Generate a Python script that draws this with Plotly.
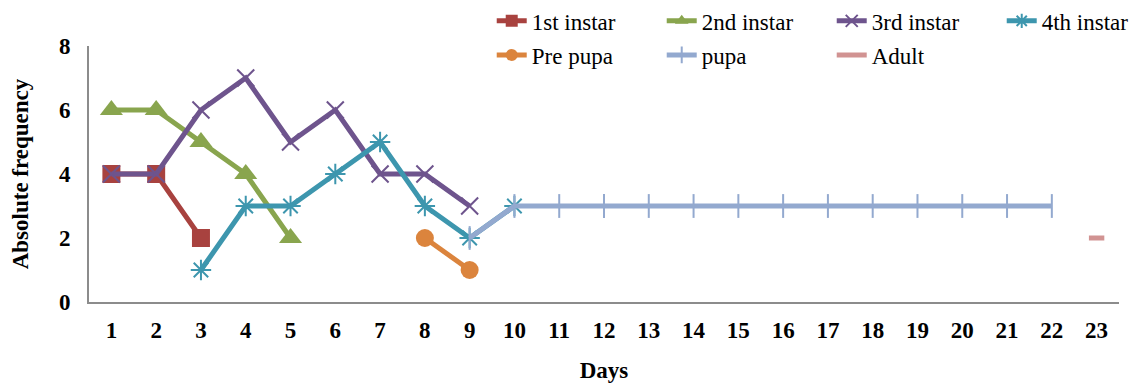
import plotly.graph_objects as go

days = list(range(1, 24))
d1 = [1, 2, 3]; v1 = [4, 4, 2]
d2 = [1, 2, 3, 4, 5]; v2 = [6, 6, 5, 4, 2]
d3 = [1, 2, 3, 4, 5, 6, 7, 8, 9]; v3 = [4, 4, 6, 7, 5, 6, 4, 4, 3]
d4 = [3, 4, 5, 6, 7, 8, 9, 10]; v4 = [1, 3, 3, 4, 5, 3, 2, 3]
dpp = [8, 9]; vpp = [2, 1]
dp = list(range(9, 23)); vp = [2] + [3] * 13
da = [23]; va = [2]

FONT = "Liberation Serif, Times New Roman, serif"
fig = go.Figure()

def add(x, y, name, color, symbol, size, legend, mlw=0, mode="lines+markers"):
    fig.add_trace(go.Scatter(
        x=x, y=y, name=name, mode=mode, legend=legend,
        line=dict(color=color, width=5),
        marker=dict(symbol=symbol, size=size, color=color,
                    line=dict(color=color, width=mlw)),
    ))

add(d1, v1, "1st instar", "#A8423F", "square", 18, "legend")
add(d2, v2, "2nd instar", "#89A54E", "triangle-up", 20, "legend")
add(d3, v3, "3rd instar", "#6E548D", "x-thin-open", 17, "legend", mlw=2)
add(d4, v4, "4th instar", "#3D96AE", "asterisk-open", 17, "legend", mlw=2)
add(dpp, vpp, "Pre pupa", "#DB843D", "circle", 18, "legend2")
add(dp, vp, "pupa", "#93A9CF", "line-ns-open", 17, "legend2", mlw=2)
add(da, va, "Adult", "#D19392", "line-ew-open", 11, "legend2", mlw=5)

axis_common = dict(showgrid=False, zeroline=False, showline=True,
                   linecolor="#8c8c8c", linewidth=2,
                   tickfont=dict(family=FONT, size=23, color="black", weight="bold"))

leg_common = dict(orientation="h", xanchor="left", yanchor="middle",
                  entrywidth=125, entrywidthmode="pixels", bgcolor="rgba(0,0,0,0)",
                  font=dict(family=FONT, size=23), itemsizing="constant")

fig.update_layout(
    width=1133, height=383,
    margin=dict(l=89, r=14, t=46, b=81, autoexpand=False),
    paper_bgcolor="white", plot_bgcolor="white",
    font=dict(family=FONT, size=19, color="black"),
    xaxis=dict(range=[0.5, 23.5], tickmode="array", tickvals=days,
               ticks="", ticklabelstandoff=6,
               title=dict(text="<b>Days</b>", font=dict(size=23), standoff=20),
               **axis_common),
    yaxis=dict(range=[0, 8], tickvals=[0, 2, 4, 6, 8], ticks="", ticklabelstandoff=12,
               title=dict(text="<b>Absolute frequency</b>", font=dict(size=23), standoff=24),
               **axis_common),
    legend=dict(x=0.391, y=1.098, **leg_common),
    legend2=dict(x=0.391, y=0.965, **leg_common),
    showlegend=True,
)

fig.write_html("out.html")
